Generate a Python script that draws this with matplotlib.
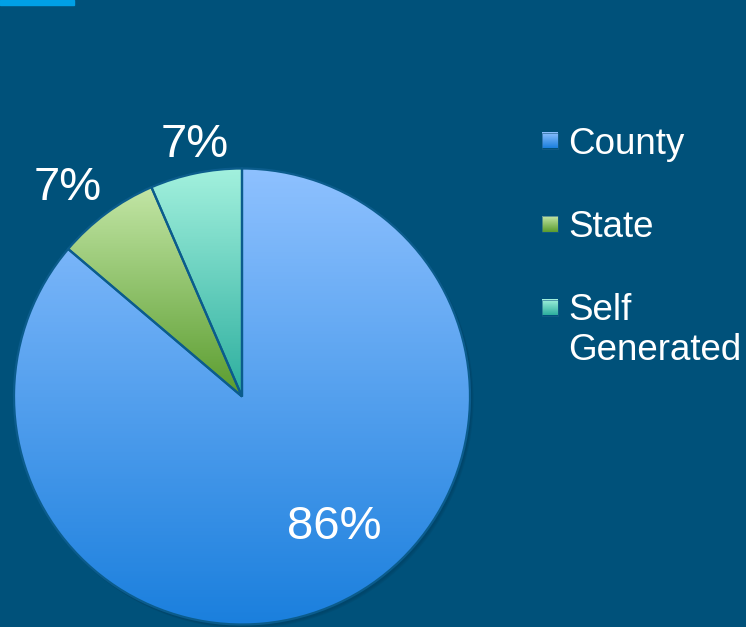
import numpy as np
import matplotlib
matplotlib.use("Agg")
import matplotlib.pyplot as plt
from matplotlib.colors import LinearSegmentedColormap
from matplotlib.patches import Rectangle

plt.rcParams['font.family'] = ['Liberation Sans', 'DejaVu Sans']

# ---- data ----
categories = ["County", "State", "Self Generated"]
legend_labels = ["County", "State", "Self\nGenerated"]
values = [86.2, 7.3, 6.5]
pct_labels = ["86%", "7%", "7%"]

# gradient (top, bottom) colours per slice
grad_top = ["#8EC1FF", "#C3E6A6", "#A3F1DE"]
grad_bot = ["#1A7FDD", "#5A9C2E", "#2CAE9E"]

BG = "#00517A"
W, H = 746, 627

fig = plt.figure(figsize=(W / 100, H / 100), dpi=100, facecolor=BG)
ax = fig.add_axes([0, 0, 1, 1])
ax.set_facecolor(BG)

# accent bar top-left
ax.add_patch(Rectangle((0, H - 4.5), 74, 4.5, color="#00A0E6", zorder=1))

cx, cy, r = 242, H - 396.5, 228

# soft shadow
for i, a in enumerate([0.10, 0.10, 0.12]):
    sh = plt.Circle((cx + 1.5 + i * 0.8, cy - 2 - i * 0.8), r + 0.5, color="#00304A",
                    alpha=a, zorder=2, lw=0)
    ax.add_patch(sh)

wedges, _ = ax.pie(values, startangle=90, counterclock=False, center=(cx, cy), radius=r,
                   wedgeprops=dict(edgecolor="#0B5C8C", linewidth=1.6))

grad = np.linspace(0, 1, 256).reshape(-1, 1)
for w, ct, cb in zip(wedges, grad_top, grad_bot):
    w.set_zorder(4)
    w.set_facecolor("none")
    verts = w.get_path().transformed(w.get_patch_transform()).vertices
    x0, x1 = verts[:, 0].min(), verts[:, 0].max()
    y0, y1 = verts[:, 1].min(), verts[:, 1].max()
    cmap = LinearSegmentedColormap.from_list("g", [ct, cb])
    im = ax.imshow(grad, cmap=cmap, extent=(x0, x1, y0, y1), origin='upper',
                   aspect='auto', zorder=3, interpolation='nearest')
    im.set_clip_path(w)

# percentage labels (baseline positions)
label_pos = [(334, 539), (68, 200.5), (195, 157)]
for (x, y), t in zip(label_pos, pct_labels):
    ax.text(x, H - y, t, color="white", fontsize=34, ha="center", va="baseline", zorder=6)

# legend
sq_y = [140.5, 224, 307.5]
txt_base = [153.5, 237, 320.5]
line_gap = 40
for i, lab in enumerate(legend_labels):
    yc = H - sq_y[i]
    cmap = LinearSegmentedColormap.from_list("g", [grad_top[i], grad_bot[i]])
    ax.imshow(grad, cmap=cmap, extent=(542, 558, yc - 8, yc + 8), origin='upper',
              aspect='auto', zorder=5, interpolation='nearest')
    ax.add_patch(Rectangle((542, yc - 8), 16, 16, fill=False, edgecolor="#1E5F8A",
                           lw=0.6, alpha=0.7, zorder=6))
    for j, line in enumerate(lab.split("\n")):
        ax.text(568, H - txt_base[i] - j * line_gap, line, color="white", fontsize=26.5,
                ha="left", va="baseline", zorder=6)

ax.set_xlim(0, W)
ax.set_ylim(0, H)
ax.set_aspect('equal')
ax.axis('off')
fig.savefig("out.png", dpi=100, facecolor=BG)
